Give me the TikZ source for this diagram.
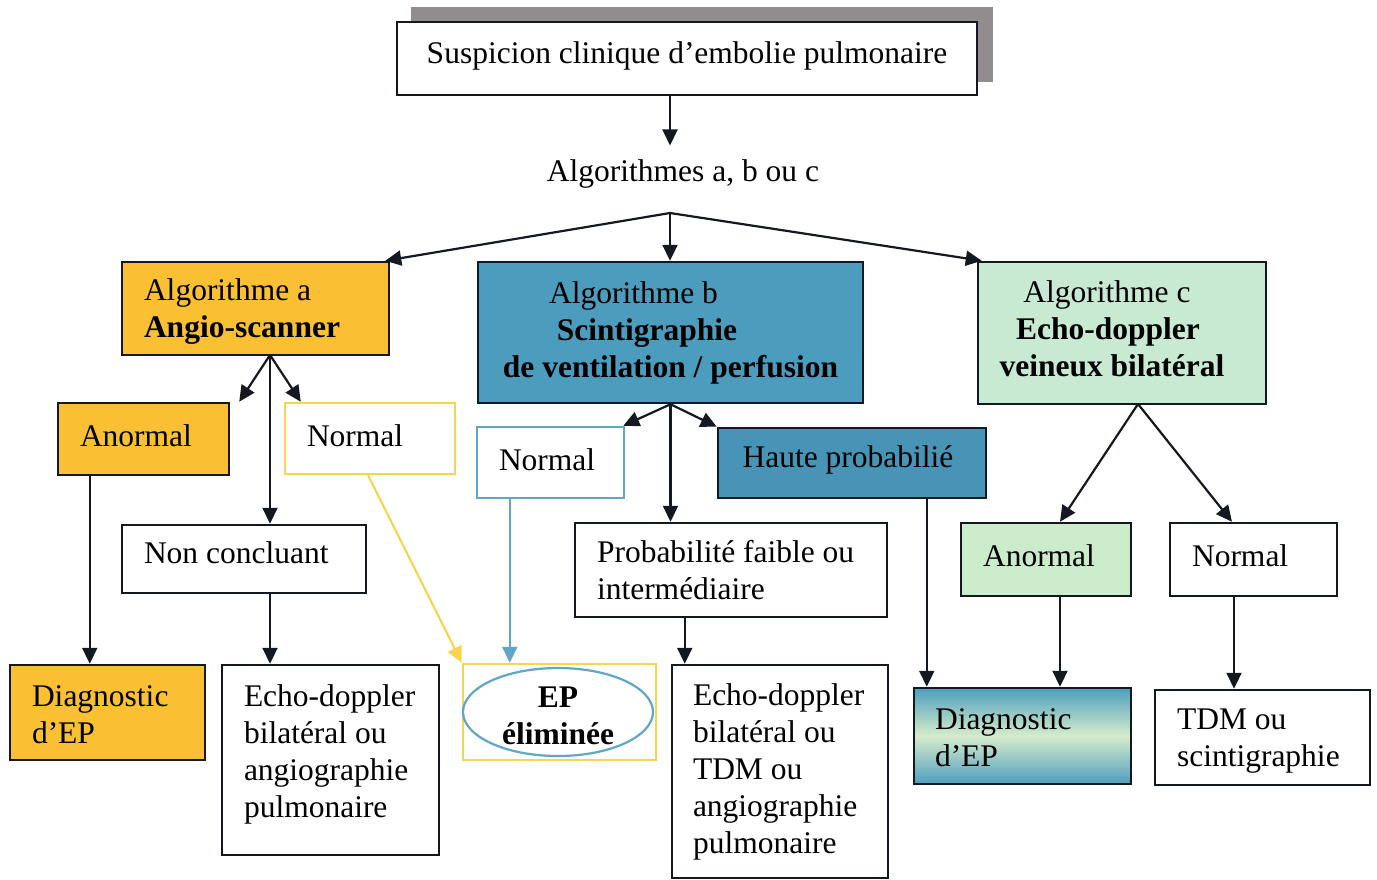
\documentclass[tikz,border=0pt]{standalone}
\usepackage{fontspec}
\setmainfont{Liberation Serif}
\usetikzlibrary{arrows.meta,shapes.geometric,backgrounds,calc}
\definecolor{orangeA}{RGB}{250,192,52}
\definecolor{yellowA}{RGB}{246,212,80}
\definecolor{steelB}{RGB}{76,156,190}
\definecolor{steelH}{RGB}{72,148,182}
\definecolor{lblue}{RGB}{96,166,198}
\definecolor{greenC}{RGB}{200,234,210}
\definecolor{greenAn}{RGB}{202,236,202}
\definecolor{shadowgray}{RGB}{145,141,143}
\definecolor{gradBlue}{RGB}{78,158,190}
\definecolor{gradLight}{RGB}{214,236,204}
\definecolor{darkline}{RGB}{20,24,32}
\newcommand{\upbox}[2]{\raisebox{#1}[\height][\depth]{#2}}
\begin{document}
\begin{tikzpicture}[x=1pt,y=-1pt,
  every node/.style={font=\fontsize{31.5}{37}\selectfont},
  bx/.style={draw=darkline, line width=2.5pt, inner ysep=0pt},
  lbx/.style={bx, align=flush left, inner xsep=22pt},
  cbx/.style={bx, align=flush center, inner xsep=0pt},
  arr/.style={-{Triangle[length=16pt,width=15pt]}, line width=2.2pt, draw=darkline},
]
\useasboundingbox (0,0) rectangle (1377,879);

% top
\node[cbx, fill=white, minimum width=580pt, minimum height=73pt] (top) at (687,58.5)
  {\upbox{3pt}{Suspicion clinique d’embolie pulmonaire}};
\begin{scope}[on background layer]
  \fill[shadowgray] ([xshift=15pt,yshift=14pt]top.south west) rectangle ([xshift=15pt,yshift=14pt]top.north east);
\end{scope}

\node[inner xsep=0pt, inner ysep=14pt] (alg) at (683,174) {Algorithmes a, b ou c};
\coordinate (br) at (670,213);

% level 1
\node[lbx, fill=orangeA, text width=223pt, minimum height=93pt] (algA) at (255.5,308.5)
  {\upbox{-3pt}{Algorithme a}\\\upbox{-3pt}{\textbf{Angio-scanner}}};
\node[cbx, fill=steelB, minimum width=385pt, minimum height=141pt] (algB) at (670.5,332.5)
  {Algorithme b\rule{74pt}{0pt}\\\textbf{Scintigraphie}\rule{47pt}{0pt}\\\textbf{de ventilation / perfusion}};
\node[cbx, fill=greenC, minimum width=288pt, minimum height=142pt] (algC) at (1122,333)
  {\upbox{4pt}{Algorithme c}\rule{30pt}{0pt}\\\upbox{4pt}{\textbf{Echo-doppler}}\rule{28pt}{0pt}\\\upbox{4pt}{\textbf{veineux bilatéral}}\rule{20pt}{0pt}};

% branch a
\node[lbx, fill=orangeA, text width=127pt, minimum height=72pt] (anoA) at (143.5,439) {\upbox{3pt}{Anormal}};
\node[lbx, draw=yellowA, fill=white, text width=126pt, minimum height=71pt] (norA) at (370,438.5) {\upbox{3pt}{Normal}};
\node[lbx, text width=200pt, minimum height=68pt] (nonC) at (244,559) {\upbox{6pt}{Non concluant}};
\node[lbx, fill=orangeA, text width=151pt, minimum height=95pt] (diagA) at (107.5,712.5)
  {\upbox{-2pt}{Diagnostic}\\\upbox{-2pt}{d’EP}};
\node[lbx, text width=173pt, minimum height=190pt] (echoA) at (330.5,760)
  {\upbox{6pt}{Echo-doppler}\\\upbox{6pt}{bilatéral ou}\\\upbox{6pt}{angiographie}\\\upbox{6pt}{pulmonaire}};

% EP eliminee
\node[bx, draw=yellowA, minimum width=193pt, minimum height=96pt] (epbox) at (559.5,712) {};
\node[ellipse, draw=lblue, line width=2.2pt, minimum width=190pt, minimum height=88pt, inner sep=0pt, align=flush center] (ep) at (558,712)
  {\upbox{-4pt}{\textbf{EP}}\\\upbox{-4pt}{\textbf{éliminée}}};

% branch b
\node[lbx, draw=lblue, fill=white, text width=103pt, minimum height=71pt] (norB) at (550.5,462.5) {\upbox{3pt}{Normal}};
\node[cbx, fill=steelH, minimum width=268pt, minimum height=70pt] (haute) at (852,463) {\upbox{3pt}{Haute probabilié}\rule{8pt}{0pt}};
\node[lbx, text width=268pt, minimum height=94pt] (prob) at (731,570) {Probabilité faible ou\\intermédiaire};
\node[lbx, inner xsep=21pt, text width=174pt, minimum height=213pt] (echoB) at (780,771.5)
  {Echo-doppler\\bilatéral ou\\TDM ou\\angiographie\\pulmonaire};

% branch c
\node[lbx, fill=greenAn, text width=126pt, minimum height=73pt] (anoC) at (1046,559.5) {\upbox{4pt}{Anormal}};
\node[lbx, text width=123pt, minimum height=73pt] (norC) at (1253.5,559.5) {\upbox{4pt}{Normal}};
\node[lbx, inner xsep=21pt, top color=gradBlue, bottom color=gradBlue, middle color=gradLight,
      text width=175pt, minimum height=96pt] (diagC) at (1022.5,736) {\upbox{-2pt}{Diagnostic}\\\upbox{-2pt}{d’EP}};
\node[lbx, text width=171pt, minimum height=95pt] (tdm) at (1262.5,737.5) {\upbox{-4pt}{TDM ou}\\\upbox{-4pt}{scintigraphie}};

% connectors
\draw[arr] (top.south -| br) -- (alg.north -| br);
\draw[arr] (br) -- ([xshift=-5pt]algA.north east);
\draw[arr] (br) -- (algB.north -| br);
\draw[arr] (br) -- ([xshift=5pt]algC.north west);

\coordinate (aS) at (270,355);
\draw[arr] (aS) -- ([xshift=9pt]anoA.north east);
\draw[arr] (aS) -- ([xshift=17pt]norA.north west);
\draw[arr] (aS) -- (aS |- nonC.north);
\draw[arr] ([xshift=33pt]anoA.south west) -- ([xshift=33pt]anoA.south west |- diagA.north);
\draw[arr] (aS |- nonC.south) -- (aS |- echoA.north);
\draw[arr, draw=yellowA] ([xshift=-2pt]norA.south) -- (epbox.north west);
\draw[arr, draw=lblue] ([xshift=34pt]norB.south west) -- ([xshift=34pt]norB.south west |- epbox.north);

\draw[arr] (algB.south) -- ([xshift=-2pt]norB.north east);
\draw[arr] (algB.south) -- (haute.north west);
\draw[arr] (algB.south) -- (algB.south |- prob.north);
\draw[arr] ([xshift=14pt]echoB.north west |- prob.south) -- ([xshift=14pt]echoB.north west);
\draw[arr] ([xshift=14pt]diagC.north west |- haute.south) -- ([xshift=14pt]diagC.north west);

\coordinate (cS) at (1138,404);
\draw[arr] (cS) -- ([xshift=14pt]anoC.north);
\draw[arr] (cS) -- ([xshift=-21.5pt]norC.north);
\draw[arr] ([xshift=14pt]anoC.south) -- ([xshift=14pt]anoC.south |- diagC.north);
\draw[arr] ([xshift=-19.5pt]norC.south) -- ([xshift=-19.5pt]norC.south |- tdm.north);
\end{tikzpicture}
\end{document}
